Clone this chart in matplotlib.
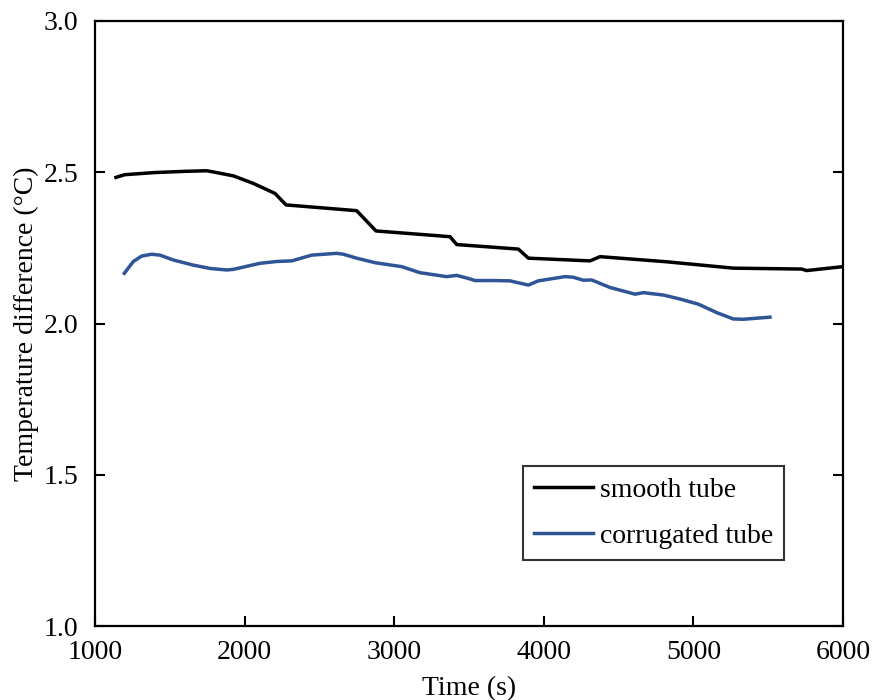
import matplotlib
matplotlib.use("Agg")
import matplotlib.pyplot as plt

plt.rcParams['font.family'] = ['Liberation Serif', 'DejaVu Serif']

# smooth tube: time (s) and temperature difference (degC)
smooth_t = [1140, 1200, 1400, 1600, 1746, 1791, 1925, 2059, 2203, 2277,
            2749, 2878, 3373, 3418, 3830, 3897, 4309, 4376, 4822, 5267,
            5724, 5757, 6000]
smooth_dt = [2.483, 2.492, 2.499, 2.503, 2.505, 2.501, 2.488, 2.463, 2.430, 2.392,
             2.373, 2.306, 2.287, 2.261, 2.246, 2.216, 2.207, 2.221, 2.204, 2.183,
             2.180, 2.175, 2.188]

# corrugated tube
corr_t = [1196, 1256, 1312, 1379, 1434, 1523, 1657, 1769, 1880, 1925,
          2103, 2214, 2315, 2448, 2615, 2660, 2749, 2872, 3050, 3172,
          3350, 3418, 3495, 3540, 3662, 3774, 3897, 3963, 4041, 4142,
          4197, 4264, 4320, 4443, 4610, 4666, 4800, 4910, 5033, 5156,
          5267, 5334, 5512]
corr_dt = [2.166, 2.205, 2.223, 2.229, 2.226, 2.210, 2.193, 2.182, 2.177, 2.179,
           2.199, 2.205, 2.207, 2.226, 2.232, 2.229, 2.216, 2.201, 2.188, 2.168,
           2.155, 2.159, 2.149, 2.142, 2.142, 2.141, 2.127, 2.141, 2.147, 2.155,
           2.153, 2.143, 2.144, 2.119, 2.097, 2.102, 2.094, 2.081, 2.064, 2.036,
           2.015, 2.014, 2.021]

fig = plt.figure(figsize=(8.75, 7), dpi=100)
ax = fig.add_axes([0.1086, 0.1057, 0.8548, 0.8643])

ax.plot(smooth_t, smooth_dt, color='black', lw=2.5, label='smooth tube')
ax.plot(corr_t, corr_dt, color='#2f5597', lw=2.5, label='corrugated tube')

ax.set_xlim(1000, 6000)
ax.set_ylim(1.0, 3.0)
ax.set_xticks([1000, 2000, 3000, 4000, 5000, 6000])
ax.set_yticks([1.0, 1.5, 2.0, 2.5, 3.0])
ax.set_yticklabels(['1.0', '1.5', '2.0', '2.5', '3.0'])
ax.tick_params(direction='in', length=7, width=1.5, labelsize=20,
               right=True, top=False)
ax.tick_params(axis='x', pad=10)
ax.tick_params(axis='y', pad=12)
for s in ax.spines.values():
    s.set_linewidth(1.6)

ax.set_xlabel('Time (s)', fontsize=20, labelpad=8)
ax.set_ylabel('Temperature difference (°C)', fontsize=20, labelpad=3)

leg = ax.legend(loc='lower right', bbox_to_anchor=(0.921, 0.109), fontsize=20,
                frameon=True, fancybox=False, edgecolor='black',
                handlelength=2.1, borderpad=0.4, labelspacing=0.75,
                handletextpad=0.25, borderaxespad=0)
leg.get_frame().set_linewidth(1.5)

fig.savefig('out.png', dpi=100)
